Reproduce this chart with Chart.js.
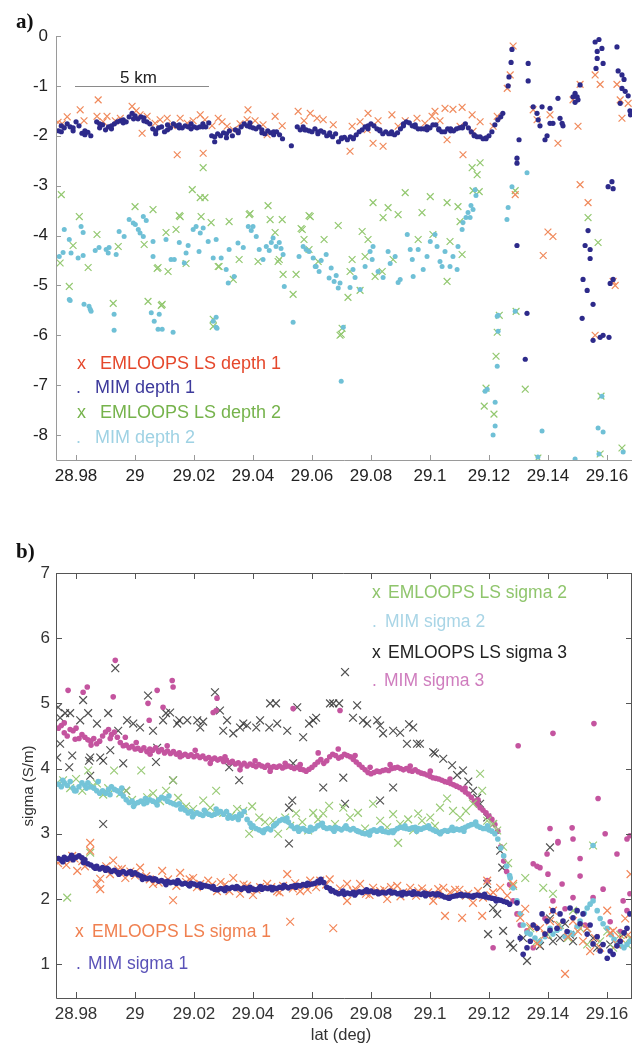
<!DOCTYPE html>
<html>
<head>
<meta charset="utf-8">
<script src="https://cdn.jsdelivr.net/npm/chart.js@4.4.1/dist/chart.umd.min.js"></script>
<style>
body{margin:0;background:#fff;width:640px;height:1043px;position:relative;overflow:hidden;font-family:"Liberation Sans",Arial,sans-serif}
canvas{position:absolute;left:0}
#chartA{top:0}
#chartB{top:490px}
.t{position:absolute;white-space:nowrap;line-height:1}
.pl{font-family:"Liberation Serif","Times New Roman",serif;font-weight:bold;font-size:21px;color:#111}
.la{font-size:18px}
.lb{font-size:17.5px}
</style>
</head>
<body>
<canvas id="chartA" width="640" height="490"></canvas>
<canvas id="chartB" width="640" height="553"></canvas>

<div class="t pl" style="left:16px;top:11px">a)</div>
<div class="t pl" style="left:16px;top:541px">b)</div>

<!-- barra de escala -->
<div style="position:absolute;left:75px;top:86px;width:134px;border-top:1px solid #8a8a8a"></div>
<div class="t" style="left:120px;top:69px;font-size:17px;color:#222">5 km</div>

<!-- legenda a -->
<div class="t la" style="left:77px;top:354px;color:#e5482c">x</div>
<div class="t la" style="left:100px;top:354px;color:#e5482c">EMLOOPS LS depth 1</div>
<div class="t la" style="left:76px;top:378px;color:#3d3a9c">.</div>
<div class="t la" style="left:95px;top:378px;color:#3d3a9c">MIM depth 1</div>
<div class="t la" style="left:77px;top:403px;color:#76b34c">x</div>
<div class="t la" style="left:100px;top:403px;color:#76b34c">EMLOOPS LS depth 2</div>
<div class="t la" style="left:76px;top:428px;color:#9fd2e4">.</div>
<div class="t la" style="left:95px;top:428px;color:#9fd2e4">MIM depth 2</div>

<!-- legenda b -->
<div class="t lb" style="left:372px;top:584px;color:#8fc56c">x</div>
<div class="t lb" style="left:388px;top:584px;color:#8fc56c">EMLOOPS LS sigma 2</div>
<div class="t lb" style="left:372px;top:613px;color:#a9d5e6">.</div>
<div class="t lb" style="left:385px;top:613px;color:#a9d5e6">MIM sigma 2</div>
<div class="t lb" style="left:372px;top:644px;color:#222">x</div>
<div class="t lb" style="left:388px;top:644px;color:#222">EMLOOPS LS sigma 3</div>
<div class="t lb" style="left:372px;top:672px;color:#cf7dbe">.</div>
<div class="t lb" style="left:384px;top:672px;color:#cf7dbe">MIM sigma 3</div>
<div class="t lb" style="left:75px;top:923px;color:#f08050">x</div>
<div class="t lb" style="left:92px;top:923px;color:#f08050">EMLOOPS LS sigma 1</div>
<div class="t lb" style="left:76px;top:955px;color:#5a52b8">.</div>
<div class="t lb" style="left:88px;top:955px;color:#5a52b8">MIM sigma 1</div>

<!-- titulos dos eixos -->
<div class="t" style="left:27px;top:786px;font-size:15px;color:#333;transform:translate(-50%,-50%) rotate(-90deg)">sigma (S/m)</div>
<div class="t" style="left:341px;top:1026px;font-size:16.5px;color:#333;transform:translateX(-50%)">lat (deg)</div>

<script>
// Ticks
const latTicks = [28.98, 29, 29.02, 29.04, 29.06, 29.08, 29.1, 29.12, 29.14, 29.16];
const depthTicks = [0, -1, -2, -3, -4, -5, -6, -7, -8];
const sigmaTicks = [1, 2, 3, 4, 5, 6, 7];

// Grade de latitude das faixas densas
const latGrid = [
28.974,28.975,28.976,28.977,28.978,28.979,28.980,28.981,28.982,28.983,
28.984,28.985,28.986,28.987,28.988,28.989,28.990,28.991,28.992,28.993,
28.994,28.995,28.996,28.997,28.998,28.999,29.000,29.001,29.002,29.003,
29.004,29.005,29.006,29.007,29.008,29.009,29.010,29.011,29.012,29.013,
29.014,29.015,29.016,29.017,29.018,29.019,29.020,29.021,29.022,29.023,
29.024,29.025,29.026,29.027,29.028,29.029,29.030,29.031,29.032,29.033,
29.034,29.035,29.036,29.037,29.038,29.039,29.040,29.041,29.042,29.043,
29.044,29.045,29.046,29.047,29.048,29.049,29.050,29.051,29.052,29.053,
29.054,29.055,29.056,29.057,29.058,29.059,29.060,29.061,29.062,29.063,
29.064,29.065,29.066,29.067,29.068,29.069,29.070,29.071,29.072,29.073,
29.074,29.075,29.076,29.077,29.078,29.079,29.080,29.081,29.082,29.083,
29.084,29.085,29.086,29.087,29.088,29.089,29.090,29.091,29.092,29.093,
29.094,29.095,29.096,29.097,29.098,29.099,29.100,29.101,29.102,29.103,
29.104,29.105,29.106,29.107,29.108,29.109,29.110,29.111,29.112,29.113,
29.114,29.115,29.116,29.117,29.118,29.119,29.120,29.121,29.122,29.123,
29.124,29.125,29.126,29.127
];

// ---------- Painel a ----------
const mimDepth1Band = [
-1.90,-1.80,-1.84,-1.76,-1.82,-1.90,-1.72,-1.80,-1.95,-1.98,
-1.93,-2.00,null,-1.72,-1.84,-1.78,-1.88,-1.82,-1.86,-1.76,
-1.72,-1.70,-1.68,-1.72,-1.62,-1.55,-1.60,-1.66,-1.62,-1.64,
-1.72,-1.76,-1.86,-1.96,-1.84,-1.82,-1.92,-1.78,-1.84,-1.76,
-1.80,-1.78,-1.84,-1.80,-1.82,-1.76,-1.82,-1.84,-1.82,-1.76,
-1.82,-1.74,-2.00,-2.12,-1.96,-2.00,-1.94,-2.04,-1.90,-2.00,
-1.88,-1.94,-1.82,-1.76,-1.80,-1.74,-1.84,-1.86,-1.82,-1.94,
-1.96,-1.90,-1.94,-1.92,-1.92,-1.98,-2.06,null,null,-2.20,
null,-1.82,-1.88,-1.82,-1.88,-1.90,-1.92,-1.86,-1.92,-1.90,
-1.93,-2.00,-1.94,-2.02,-1.96,-2.12,-2.04,-2.03,-2.08,-2.02,
-2.04,-1.98,-1.92,-1.88,-1.82,-1.80,-1.76,-1.80,-1.86,-1.90,
-1.96,-1.92,-1.96,-1.96,-1.98,-1.94,-1.86,-1.76,-1.72,-1.74,
-1.80,-1.82,-1.86,-1.86,-1.86,-1.88,-1.84,-1.78,-1.78,-1.86,
-1.92,-1.92,-1.86,-1.86,-1.90,-1.86,-1.84,-1.84,-1.76,-1.84,
-1.92,-1.98,-2.02,-2.02,-2.06,-2.04,-2.00,-1.92,-1.78,-1.68,
null,null,null,null
];

const mimDepth1Extra = [
[28.9750,-1.92],[28.9790,-1.84],[28.9830,-1.90],[28.9880,-1.76],[28.9920,-1.80],[28.9960,-1.74],[28.9995,-1.66],[29.0030,-1.70],[29.0070,-1.90],[29.0110,-1.88],
[29.0150,-1.84],[29.0190,-1.86],[29.0230,-1.82],[29.0270,-2.02],[29.0310,-1.96],[29.0350,-1.90],[29.0390,-1.82],[29.0430,-1.88],[29.0470,-1.98],[29.0575,-1.88],
[29.0620,-1.96],[29.0660,-1.98],[29.0700,-2.06],[29.0740,-2.06],[29.0790,-1.86],[29.0830,-1.88],[29.0870,-1.92],[29.0910,-1.80],[29.0950,-1.78],[29.0990,-1.82],
[29.1030,-1.88],[29.1070,-1.90],[29.1110,-1.82],[29.1150,-2.00],[29.1190,-2.06],[29.1240,-1.62],[29.1247,-1.55],
[29.1278,-0.27],[29.1275,-0.53],[29.1268,-0.82],[29.1265,-1.00],[29.1333,-0.55],[29.1333,-0.90],[29.1302,-2.08],[29.1295,-2.45],[29.1295,-2.55],
[29.1350,-1.42],[29.1363,-1.55],[29.1367,-1.68],[29.1373,-1.80],[29.1380,-1.42],[29.1407,-1.45],[29.1407,-1.75],[29.1417,-1.75],[29.1390,-2.08],[29.1397,-2.00],
[29.1441,-1.65],[29.1448,-1.75],[29.1451,-1.80],[29.1434,-1.25],[29.1485,-1.22],[29.1492,-1.15],[29.1499,-1.22],[29.1502,-1.28],[29.1509,-0.98],[29.1492,-1.33],
[29.1560,-0.12],[29.1573,-0.07],[29.1567,-0.31],[29.1583,-0.25],[29.1567,-0.45],[29.1587,-0.55],[29.1563,-0.65],[29.1634,-0.22],[29.1638,-0.70],[29.1651,-0.78],
[29.1658,-0.87],[29.1651,-1.05],[29.1662,-1.11],[29.1672,-1.20],[29.1645,-1.35],[29.1678,-1.50],[29.1680,-1.58],
[29.1295,-4.20],[29.1536,-3.90],[29.1526,-4.20],[29.1543,-4.28],[29.1543,-4.46],[29.1519,-4.88],[29.1533,-5.10],[29.1553,-5.38],[29.1516,-5.66],[29.1329,-5.56],
[29.1323,-6.48],[29.1553,-6.10],[29.1577,-6.04],[29.1587,-6.00],[29.1607,-6.04],[29.1621,-4.88],[29.1611,-4.96],[29.1604,-3.02],[29.1617,-2.92],[29.1621,-3.06]
];

const emDepth1 = [
[28.9739,-1.73],[28.9753,-1.76],[28.9770,-1.62],[28.9814,-1.48],[28.9827,-1.70],[28.9875,-1.28],[28.9871,-1.61],[28.9892,-1.72],[28.9905,-1.61],[28.9933,-1.70],
[28.9950,-1.65],[28.9990,-1.41],[29.0004,-1.50],[29.0017,-1.58],[29.0024,-1.95],[29.0041,-1.61],[29.0068,-1.75],[29.0085,-1.68],[29.0109,-1.65],[29.0126,-1.80],
[29.0143,-2.38],[29.0153,-1.65],[29.0177,-1.75],[29.0197,-1.70],[29.0221,-1.58],[29.0231,-2.35],[29.0237,-1.68],[29.0261,-1.80],[29.0282,-1.65],[29.0295,-1.72],
[29.0312,-1.81],[29.0333,-1.88],[29.0356,-1.76],[29.0380,-1.68],[29.0383,-1.48],[29.0407,-1.70],[29.0434,-1.78],[29.0448,-1.98],[29.0475,-1.61],[29.0499,-1.80],
[29.0553,-1.51],[29.0573,-1.70],[29.0594,-1.55],[29.0617,-1.65],[29.0638,-1.68],[29.0672,-1.78],[29.0729,-2.31],[29.0736,-1.81],[29.0763,-1.72],[29.0790,-1.55],
[29.0787,-1.88],[29.0807,-2.15],[29.0824,-1.70],[29.0841,-2.21],[29.0871,-1.58],[29.0892,-1.81],[29.0916,-1.70],[29.0956,-1.65],[29.0983,-1.75],[29.1007,-1.61],
[29.1017,-1.51],[29.1034,-1.70],[29.1051,-1.45],[29.1058,-2.08],[29.1078,-1.47],[29.1102,-1.81],[29.1109,-1.43],[29.1112,-2.38],[29.1143,-1.58],[29.1146,-1.91],
[29.1170,-1.72],[29.1214,-1.81],[29.1228,-1.61],[29.1262,-1.05],[29.1272,-0.78],[29.1282,-0.20],[29.1289,-3.18],[29.1350,-1.48],[29.1363,-1.68],[29.1407,-1.58],
[29.1434,-2.15],[29.1502,-1.81],[29.1485,-1.28],[29.1509,-0.97],[29.1560,-0.78],[29.1577,-0.97],[29.1509,-2.98],[29.1536,-3.34],[29.1634,-0.97],[29.1645,-1.28],
[29.1651,-1.65],[29.1672,-1.35],[29.1400,-3.93],[29.1417,-4.02],[29.1384,-4.40],[29.1621,-4.92],[29.1628,-5.00],[29.1560,-6.00]
];

const mimDepth2 = [
[28.9743,-4.42],[28.9756,-4.34],[28.9760,-3.88],[28.9777,-4.08],[28.9783,-4.35],[28.9777,-5.28],[28.9817,-3.82],[28.9824,-3.94],[28.9807,-4.45],[28.9824,-4.40],
[28.9827,-5.38],[28.9844,-5.42],[28.9851,-5.52],[28.9878,-4.24],[28.9902,-4.28],[28.9912,-4.24],[28.9909,-4.35],[28.9936,-4.38],[28.9946,-3.92],[28.9929,-5.58],
[28.9929,-5.90],[28.9980,-3.68],[28.9994,-3.75],[29.0011,-3.88],[29.0028,-3.62],[29.0028,-4.02],[29.0061,-4.12],[29.0055,-5.55],[29.0065,-5.72],[29.0082,-5.58],
[29.0078,-5.88],[29.0061,-4.42],[29.0105,-4.08],[29.0122,-4.48],[29.0133,-4.48],[29.0167,-4.55],[29.0150,-4.14],[29.0173,-4.35],[29.0197,-3.88],[29.0207,-3.82],
[29.0231,-3.85],[29.0217,-4.32],[29.0248,-4.12],[29.0265,-4.45],[29.0275,-4.08],[29.0292,-4.45],[29.0309,-4.68],[29.0319,-4.28],[29.0316,-4.95],[29.0336,-4.82],
[29.0367,-4.24],[29.0384,-3.82],[29.0400,-3.82],[29.0411,-4.02],[29.0421,-4.28],[29.0434,-4.48],[29.0445,-4.22],[29.0462,-4.14],[29.0478,-4.22],[29.0489,-4.14],
[29.0502,-4.38],[29.0506,-5.02],[29.0536,-5.74],[29.0556,-4.42],[29.0570,-4.22],[29.0580,-4.28],[29.0590,-4.32],[29.0604,-4.45],[29.0614,-4.62],[29.0624,-4.72],
[29.0648,-4.38],[29.0658,-4.85],[29.0675,-4.92],[29.0689,-5.05],[29.0706,-5.84],[29.0275,-5.64],[29.0275,-5.84],[29.0265,-5.72],[28.9780,-5.30],[28.9848,-5.48],
[29.0092,-5.88],[29.0129,-5.94],[29.0278,-5.86],[29.0611,-4.62],[29.0699,-6.92],[29.0807,-4.22],[29.0797,-4.32],[29.0804,-4.48],[29.0739,-4.68],[29.0746,-4.84],
[29.0763,-5.08],[29.0729,-5.04],[29.0841,-4.84],[29.0865,-4.56],[29.0858,-4.32],[29.0899,-4.88],[29.0892,-4.94],[29.0923,-3.98],[29.0933,-4.28],[29.0940,-4.48],
[29.0943,-4.82],[29.0977,-4.68],[29.1001,-4.12],[29.1017,-3.98],[29.1024,-4.22],[29.1034,-4.52],[29.1041,-4.62],[29.1068,-4.62],[29.1078,-4.42],[29.1092,-4.68],
[29.1109,-3.88],[29.1112,-3.74],[29.1129,-3.54],[29.1146,-3.48],[29.1153,-3.08],[29.1136,-3.64],[29.1228,-5.62],[29.1278,-3.02],[29.1265,-3.44],[29.1261,-3.68],
[29.1329,-2.74],[29.1228,-6.62],[29.1221,-7.82],[29.1214,-8.00],[29.1187,-7.12],[29.1194,-7.08],[29.1221,-7.34],[29.1231,-5.92],[29.1231,-5.60],[29.1289,-5.52],
[29.1380,-7.92],[29.1570,-7.86],[29.1587,-7.94],[29.1583,-7.22],[29.1655,-8.34],[29.1573,-8.38],[29.1366,-8.44],[29.1492,-8.48],
[29.0780,-4.62],[29.0824,-4.72],[29.0882,-4.42],[29.0960,-4.28],[29.0990,-4.42],[29.1051,-4.32],[29.1095,-4.22],[29.1122,-3.64],[29.1139,-3.40],[29.1156,-3.20],
[28.9865,-4.30],[28.9963,-4.02],[29.0001,-3.78],[29.0017,-3.95],[29.0038,-3.70],[29.0180,-4.20],[29.0221,-3.95],[29.0349,-4.15],[29.0394,-3.90],[29.0455,-4.30],
[29.0468,-4.05],[29.0495,-4.26],[29.0631,-4.50],[29.0665,-4.65],[29.0682,-4.80],[29.0695,-4.95]
];

const emDepth2 = [
[28.9750,-3.18],[28.9811,-3.62],[28.9871,-3.98],[29.0000,-3.42],[29.0061,-3.48],[29.0194,-3.08],[29.0221,-3.24],[29.0231,-2.64],[29.0237,-3.24],[29.0153,-3.62],
[29.0390,-3.56],[29.0451,-3.40],[29.0499,-3.68],[29.0594,-3.62],[29.0567,-3.88],[29.0458,-3.68],[28.9777,-5.02],[28.9841,-4.64],[28.9926,-5.36],[28.9943,-4.22],
[29.0031,-4.18],[29.0044,-5.32],[29.0078,-4.64],[29.0089,-5.40],[29.0105,-3.94],[29.0112,-4.72],[29.0150,-3.60],[29.0139,-3.88],[29.0224,-3.62],[29.0258,-3.74],
[29.0285,-4.62],[29.0319,-3.72],[29.0333,-4.88],[29.0353,-4.48],[29.0387,-3.58],[29.0417,-4.52],[29.0475,-3.94],[29.0489,-4.48],[29.0536,-5.18],[29.0546,-4.78],
[29.0563,-3.86],[29.0573,-4.08],[29.0590,-3.60],[29.0590,-4.28],[29.0621,-4.52],[29.0641,-4.08],[29.0689,-3.80],[29.0699,-5.98],[29.0265,-5.68],[29.0265,-5.82],
[29.0075,-4.66],[29.0173,-4.56],[29.0282,-4.62],[29.0485,-4.52],[29.0502,-4.78],[29.0092,-5.38],[29.0916,-3.14],[29.1001,-3.22],[29.0807,-3.34],[29.0858,-3.44],
[29.0892,-3.58],[29.0841,-3.64],[29.0973,-3.54],[29.1058,-3.34],[29.1095,-3.42],[29.1146,-3.10],[29.1102,-3.72],[29.0770,-3.92],[29.0790,-4.08],[29.0960,-4.08],
[29.1010,-3.98],[29.1068,-4.12],[29.1109,-4.38],[29.0736,-4.48],[29.0875,-4.48],[29.0838,-4.72],[29.0814,-4.82],[29.0729,-4.72],[29.0722,-5.24],[29.1058,-4.92],
[29.1170,-2.54],[29.1143,-2.64],[29.1160,-2.78],[29.1167,-3.12],[29.1235,-5.60],[29.1228,-5.94],[29.1224,-6.42],[29.1190,-7.06],[29.1184,-7.42],[29.1217,-7.58],
[29.1292,-5.52],[29.1323,-7.08],[29.1577,-8.38],[29.1580,-7.22],[29.1651,-8.26],[29.0702,-5.86],[29.0695,-6.00],[29.0763,-5.10],[29.0780,-4.42],[29.1366,-8.46],
[29.1536,-3.64],[29.1570,-4.14],[29.1289,-3.10],[28.9746,-4.55],[28.9790,-4.20]
];

// ---------- Painel b ----------
const mimSigma1Band = [
2.62,2.60,2.64,2.61,2.63,2.60,2.64,2.66,2.63,2.60,
2.54,2.52,2.49,2.50,2.46,2.48,2.44,2.45,2.42,2.44,
2.41,2.40,2.42,2.39,2.41,2.38,2.40,2.37,2.35,2.33,
2.31,2.32,2.29,2.30,2.27,2.28,2.26,2.27,2.25,2.26,
2.24,2.25,2.23,2.24,2.22,2.24,2.23,2.21,2.23,2.21,
2.20,2.19,2.17,2.15,2.14,2.16,2.15,2.17,2.16,2.18,
2.16,2.17,2.15,2.17,2.16,2.18,2.15,2.14,2.16,2.15,
2.17,2.16,2.18,2.17,2.16,2.18,2.17,2.19,2.17,2.19,
2.20,2.21,2.20,2.22,2.21,2.22,2.23,2.24,2.27,2.30,
2.25,2.18,2.16,2.13,2.10,2.08,2.09,2.07,2.09,2.08,
2.10,2.09,2.11,2.10,2.12,2.11,2.12,2.10,2.11,2.09,
2.10,2.09,2.11,2.09,2.10,2.08,2.09,2.10,2.08,2.09,
2.07,2.08,2.08,2.07,2.09,2.08,2.07,2.08,2.06,2.07,
2.05,2.03,2.02,2.03,2.04,2.05,2.06,2.05,2.06,2.05,
2.04,2.05,2.06,2.05,2.04,2.03,2.02,2.01,2.00,1.99,
1.98,1.96,1.95,1.92
];

const mimSigma2Band = [
3.76,3.72,3.78,3.74,3.80,3.70,3.66,3.72,3.78,3.74,
3.78,3.72,3.70,3.66,3.62,3.66,3.62,3.68,3.72,3.68,
3.66,3.62,3.58,3.52,3.48,3.50,3.46,3.48,3.50,3.46,
3.48,3.52,3.50,3.48,3.52,3.56,3.54,3.50,3.48,3.46,
3.44,3.46,3.40,3.36,3.32,3.34,3.30,3.32,3.30,3.28,
3.32,3.30,3.28,3.30,3.32,3.34,3.30,3.34,3.28,3.24,
3.26,3.22,3.28,3.34,3.22,3.16,3.12,3.08,3.06,3.04,
3.06,3.08,3.06,3.12,3.16,3.20,3.22,3.20,3.18,3.12,
3.08,3.10,3.07,3.08,3.05,3.04,3.06,3.08,3.12,3.14,
3.10,3.08,3.09,3.07,3.10,3.08,3.06,3.09,3.08,3.06,
3.08,3.05,3.03,3.01,3.00,3.02,3.04,3.06,3.04,3.06,
3.04,3.03,3.02,3.04,3.05,3.08,3.10,3.09,3.08,3.07,
3.09,3.10,3.08,3.07,3.09,3.10,3.08,3.06,3.04,3.02,
3.03,3.05,3.04,3.06,3.05,3.07,3.06,3.08,3.10,3.12,
3.14,3.15,3.12,3.10,3.08,3.08,3.06,3.04,3.00,2.92,
2.78,2.66,2.50,2.36
];

const mimSigma3Band = [
4.62,4.66,4.55,4.50,4.60,4.58,4.62,4.46,4.52,4.48,
4.44,4.42,4.46,4.38,4.42,4.50,4.56,4.60,4.52,4.56,
4.48,4.40,4.35,4.36,4.32,4.34,4.30,4.31,4.28,4.32,
4.26,4.30,4.28,4.32,4.26,4.29,4.24,4.27,4.23,4.26,
4.22,4.24,4.20,4.22,4.19,4.21,4.18,4.20,4.17,4.19,
4.15,4.17,4.14,4.16,4.13,4.15,4.11,4.13,4.09,4.11,
4.07,4.09,4.05,4.08,4.04,4.07,4.05,4.03,4.06,4.04,
4.02,4.05,4.01,4.03,4.02,4.04,4.01,4.03,4.04,4.02,
4.00,4.02,3.99,3.98,3.96,3.99,4.02,4.06,4.10,4.14,
4.08,4.12,4.18,4.22,4.20,4.16,4.18,4.22,4.20,4.18,
4.14,4.10,4.06,4.02,3.98,3.94,3.92,3.94,3.96,3.95,
3.97,3.98,3.97,4.00,4.01,4.02,4.00,3.98,4.00,3.97,
3.96,3.98,3.95,3.93,3.92,3.90,3.88,3.86,3.85,3.84,
3.82,3.80,3.79,3.77,3.75,3.73,3.71,3.68,3.64,3.61,
3.56,3.50,3.45,3.40,3.36,3.32,3.27,3.22,3.14,3.04,
2.80,2.58,2.42,2.22
];

const mimSigma1Extra = [
[28.9755,2.57],[28.9785,2.67],[28.9825,2.56],[28.9865,2.47],[28.9905,2.47],[28.9945,2.38],[28.9985,2.42],[29.0025,2.30],[29.0065,2.31],[29.0105,2.22],
[29.0145,2.28],[29.0185,2.20],[29.0225,2.18],[29.0265,2.19],[29.0305,2.13],[29.0345,2.19],[29.0385,2.13],[29.0425,2.19],[29.0465,2.14],[29.0505,2.21],
[29.0545,2.18],[29.0585,2.24],[29.0625,2.25],[29.0665,2.12],[29.0705,2.12],[29.0745,2.06],[29.0785,2.14],[29.0825,2.08],[29.0865,2.12],[29.0905,2.06],
[29.0945,2.11],[29.0985,2.05],[29.1025,2.08],[29.1065,2.01],[29.1105,2.07],[29.1145,2.03],[29.1185,2.07],[29.1225,1.97],
[29.1295,1.94],[29.1306,1.40],[29.1316,1.15],[29.1329,1.25],[29.1340,1.35],[29.1350,1.60],[29.1363,1.55],[29.1380,1.77],[29.1390,1.46],[29.1397,1.66],
[29.1407,1.52],[29.1417,1.82],[29.1431,1.55],[29.1441,1.77],[29.1451,1.66],[29.1465,1.50],[29.1475,1.86],[29.1485,1.71],[29.1499,1.82],[29.1509,1.62],
[29.1519,1.77],[29.1533,1.46],[29.1543,1.60],[29.1553,1.31],[29.1567,1.42],[29.1577,1.20],[29.1587,1.30],[29.1601,1.09],[29.1611,1.20],[29.1621,1.15],
[29.1634,1.28],[29.1645,1.35],[29.1658,1.48],[29.1668,1.55],[29.1678,1.77]
];

const mimSigma2Extra = [
[28.9755,3.82],[28.9795,3.66],[28.9835,3.70],[28.9875,3.80],[28.9915,3.60],[28.9955,3.70],[28.9995,3.42],[29.0035,3.54],[29.0075,3.44],[29.0115,3.58],
[29.0155,3.38],[29.0195,3.26],[29.0235,3.36],[29.0275,3.38],[29.0315,3.24],[29.0355,3.30],[29.0395,3.10],[29.0435,3.02],[29.0475,3.14],[29.0515,3.24],
[29.0555,3.04],[29.0595,3.10],[29.0635,3.16],[29.0675,3.04],[29.0715,3.12],[29.0755,3.04],[29.0795,2.98],[29.0835,3.08],[29.0875,3.02],[29.0915,3.12],
[29.0955,3.04],[29.0995,3.12],[29.1035,3.00],[29.1075,3.10],[29.1115,3.04],[29.1155,3.18],[29.1195,3.12],
[29.1272,2.32],[29.1282,2.17],[29.1295,1.97],[29.1306,1.77],[29.1316,1.60],[29.1329,1.48],[29.1340,1.46],[29.1356,1.40],[29.1373,1.35],[29.1390,1.42],
[29.1407,1.55],[29.1417,1.46],[29.1431,1.52],[29.1441,1.55],[29.1458,1.42],[29.1475,1.48],[29.1485,1.46],[29.1499,1.58],[29.1509,1.66],[29.1523,1.78],
[29.1533,1.86],[29.1543,1.92],[29.1553,1.97],[29.1567,1.82],[29.1577,1.70],[29.1587,1.62],[29.1601,1.55],[29.1614,1.45],[29.1624,1.38],[29.1634,1.31],
[29.1648,1.28],[29.1658,1.25],[29.1668,1.30],[29.1678,1.35],[29.1553,2.82]
];

const mimSigma3Extra = [
[28.9773,5.20],[28.9824,5.17],[28.9838,5.25],[28.9933,5.66],[28.9926,5.10],[29.0044,5.00],[29.0075,5.20],[29.0095,4.94],[29.0126,5.35],[29.0129,5.25],
[29.0265,4.86],[29.0278,5.08],[29.0536,4.92],[29.0275,4.89],[29.0048,4.74],[29.0695,4.89],
[28.9760,4.70],[28.9797,4.45],[28.9851,4.36],[28.9916,4.46],[28.9967,4.48],[29.0004,4.40],[29.0051,4.22],[29.0109,4.35],[29.0153,4.18],[29.0204,4.28],
[29.0255,4.08],[29.0305,4.18],[29.0356,3.98],[29.0407,4.12],[29.0458,3.96],[29.0509,4.08],[29.0560,4.06],[29.0621,4.24],[29.0689,4.30],[29.0746,4.20],
[29.0797,4.02],[29.0865,4.06],[29.0933,4.04],[29.1001,3.96],[29.1068,3.84],[29.1119,3.70],[29.1163,3.52],
[29.1282,1.97],[29.1295,1.77],[29.1306,1.60],[29.1194,2.28],[29.1214,1.25],[29.1299,4.35],[29.1417,4.54],[29.1556,4.69],[29.1570,3.54],
[29.1407,3.08],[29.1482,3.09],[29.1485,2.92],[29.1594,3.00],[29.1509,2.62],[29.1634,2.69],[29.1434,2.86],[29.1397,2.69],[29.1350,2.54],[29.1373,2.48],
[29.1400,2.38],[29.1448,2.23],[29.1509,2.35],[29.1587,2.15],[29.1655,1.97],[29.1678,2.08],[29.1668,1.82],[29.1553,2.02],[29.1485,2.02],[29.1417,1.97],
[29.1329,1.51],[29.1350,1.25],[29.1390,1.70],[29.1458,1.85],[29.1526,1.60],[29.1611,1.65],[29.1678,2.97],[29.1645,1.50],
[29.1434,2.88],[29.1668,2.92],[29.1363,2.50]
];

const emSigma1 = [
[28.9739,2.55],[28.9753,2.60],[28.9767,2.52],[28.9787,2.66],[28.9804,2.43],[28.9821,2.58],[28.9848,2.86],[28.9848,2.74],[28.9871,2.23],[28.9882,2.15],
[28.9882,2.31],[28.9902,2.50],[28.9926,2.59],[28.9943,2.45],[28.9967,2.32],[28.9984,2.42],[29.0017,2.48],[29.0038,2.35],[29.0061,2.23],[29.0092,2.43],
[29.0112,2.30],[29.0129,1.98],[29.0153,2.40],[29.0173,2.26],[29.0197,2.32],[29.0221,2.23],[29.0248,2.28],[29.0278,2.12],[29.0305,2.22],[29.0333,2.32],
[29.0356,2.08],[29.0380,2.20],[29.0400,2.06],[29.0424,2.18],[29.0448,2.23],[29.0482,2.12],[29.0502,2.20],[29.0516,2.38],[29.0526,1.65],[29.0543,2.24],
[29.0560,2.12],[29.0577,2.20],[29.0594,2.28],[29.0614,2.18],[29.0628,2.28],[29.0648,2.22],[29.0672,1.55],[29.0695,2.16],[29.0719,2.23],[29.0719,1.97],
[29.0739,2.12],[29.0763,2.23],[29.0783,2.08],[29.0807,2.17],[29.0831,2.12],[29.0855,2.00],[29.0868,2.18],[29.0889,2.20],[29.0909,2.10],[29.0933,2.17],
[29.0953,2.05],[29.0973,2.16],[29.0994,2.10],[29.1011,1.97],[29.1028,2.15],[29.1045,2.17],[29.1051,1.74],[29.1068,2.10],[29.1085,2.14],[29.1109,1.71],
[29.1122,2.05],[29.1146,1.94],[29.1163,2.12],[29.1177,1.74],[29.1194,2.28],[29.1214,2.10],[29.1238,2.17],[29.1262,2.05],[29.1282,2.23],[29.1306,1.71],
[29.1323,1.85],[29.1340,1.58],[29.1363,1.31],[29.1373,1.55],[29.1390,1.45],[29.1407,1.66],[29.1417,1.82],[29.1434,1.60],[29.1458,0.85],[29.1468,1.42],
[29.1485,1.66],[29.1502,1.50],[29.1519,1.35],[29.1533,1.55],[29.1543,1.20],[29.1560,1.40],[29.1577,1.25],[29.1601,1.82],[29.1611,1.48],[29.1621,1.51],
[29.1634,1.30],[29.1645,1.40],[29.1662,1.70],[29.1672,1.45],[29.1680,2.38],
[28.9795,2.62],[28.9830,2.50],[28.9915,2.38],[28.9955,2.46],[29.0000,2.36],[29.0050,2.30],[29.0080,2.25],[29.0140,2.20],[29.0185,2.30],[29.0210,2.18],
[29.0262,2.22],[29.0290,2.26],[29.0320,2.12],[29.0368,2.22],[29.0412,2.14],[29.0462,2.18],[29.0490,2.10],[29.0535,2.16],[29.0585,2.14],[29.0660,2.30],
[29.0750,2.14],[29.0795,2.06],[29.0845,2.14],[29.0900,2.04],[29.0960,2.12],[29.1020,2.06],[29.1100,2.14],[29.1130,2.08],[29.1180,2.02],[29.1205,2.06]
];

const emSigma2 = [
[28.9736,3.78],[28.9756,3.82],[28.9770,2.02],[28.9780,3.70],[28.9800,3.84],[28.9821,3.66],[28.9841,3.97],[28.9848,2.71],[28.9858,3.74],[28.9871,3.77],
[28.9892,3.60],[28.9909,3.70],[28.9929,3.97],[28.9950,3.62],[28.9970,3.66],[28.9990,3.52],[29.0021,3.97],[29.0041,3.56],[29.0061,3.62],[29.0085,3.50],
[29.0105,3.66],[29.0129,3.82],[29.0146,3.55],[29.0173,3.42],[29.0197,3.38],[29.0231,3.51],[29.0255,3.40],[29.0275,3.66],[29.0299,3.32],[29.0326,3.28],
[29.0346,3.38],[29.0367,3.35],[29.0387,3.00],[29.0397,3.42],[29.0421,3.25],[29.0441,3.18],[29.0468,3.20],[29.0485,3.00],[29.0509,3.25],[29.0526,3.12],
[29.0546,3.31],[29.0567,3.18],[29.0587,3.05],[29.0604,3.32],[29.0621,3.22],[29.0638,3.31],[29.0658,3.43],[29.0678,3.15],[29.0706,3.40],[29.0729,3.25],
[29.0756,3.32],[29.0780,3.08],[29.0807,3.46],[29.0831,3.20],[29.0855,3.10],[29.0875,3.30],[29.0892,2.86],[29.0899,3.15],[29.0926,3.22],[29.0943,3.05],
[29.0960,3.31],[29.0973,3.20],[29.1001,3.25],[29.1017,3.12],[29.1034,3.40],[29.1058,3.54],[29.1078,3.35],[29.1102,3.25],[29.1122,3.35],[29.1146,3.46],
[29.1170,3.92],[29.1177,3.66],[29.1194,3.20],[29.1214,3.15],[29.1228,3.05],[29.1248,2.80],[29.1265,2.55],[29.1282,2.20],[29.1323,2.32],[29.1340,1.55],
[29.1363,1.35],[29.1384,2.17],[29.1400,1.45],[29.1417,2.08],[29.1441,1.60],[29.1468,1.40],[29.1485,1.82],[29.1509,1.55],[29.1533,1.30],[29.1553,2.82],
[29.1577,1.35],[29.1601,1.50],[29.1621,1.25],[29.1645,1.45],[29.1668,1.30],[29.1678,1.40]
];

const emSigma3 = [
[28.9736,4.17],[28.9739,4.94],[28.9746,4.78],[28.9746,4.38],[28.9763,4.85],[28.9777,4.02],[28.9780,4.85],[28.9787,4.20],[28.9814,4.74],[28.9824,5.05],
[28.9841,4.85],[28.9844,4.12],[28.9848,4.17],[28.9848,3.89],[28.9871,4.69],[28.9882,4.17],[28.9892,4.12],[28.9892,3.15],[28.9909,4.85],[28.9916,4.28],
[28.9933,5.54],[28.9943,4.58],[28.9960,4.08],[28.9970,3.66],[28.9973,4.74],[28.9994,4.69],[29.0017,4.63],[29.0044,5.12],[29.0061,4.58],[29.0071,4.10],
[29.0075,4.32],[29.0095,4.74],[29.0105,4.85],[29.0119,4.86],[29.0129,3.82],[29.0143,4.69],[29.0150,4.74],[29.0177,4.74],[29.0211,4.74],[29.0221,4.63],
[29.0231,4.72],[29.0271,5.17],[29.0288,4.89],[29.0299,4.58],[29.0312,4.74],[29.0319,4.02],[29.0333,4.54],[29.0353,3.82],[29.0356,4.63],[29.0367,4.69],
[29.0380,4.66],[29.0411,4.63],[29.0424,4.74],[29.0455,4.63],[29.0458,5.00],[29.0478,5.00],[29.0482,4.69],[29.0516,4.58],[29.0522,3.40],[29.0522,2.85],
[29.0533,3.51],[29.0536,4.08],[29.0550,4.94],[29.0570,4.48],[29.0590,4.69],[29.0604,4.74],[29.0614,4.78],[29.0638,3.71],[29.0672,5.00],[29.0692,5.00],
[29.0706,3.86],[29.0712,3.46],[29.0739,4.78],[29.0753,4.97],[29.0787,4.69],[29.0831,4.66],[29.0831,3.51],[29.0841,4.54],[29.0875,3.71],[29.0899,4.55],
[29.0943,4.63],[29.0929,4.68],[29.0966,4.38],[29.1011,4.25],[29.1092,3.90],[29.1112,3.97],[29.1146,3.66],[29.1170,3.46],[29.1194,3.25],[29.1214,3.15],
[29.1238,2.74],[29.1245,2.48],[29.1194,2.23],[29.1214,1.86],[29.1228,1.77],[29.1197,1.46],[29.1248,1.51],[29.1272,1.31],[29.1282,1.25],[29.1316,1.40],
[29.1329,1.05],[29.1407,2.79],[29.1407,1.70],[29.1417,1.35],[29.1441,1.40],[29.1475,1.45],[29.1485,1.35],[29.1533,1.55],[29.1553,1.40],[29.1567,1.25],
[29.1611,1.30],[29.1655,1.46],[29.1458,1.62],[29.1373,1.28],
[29.0661,5.00],[29.0712,5.48],[29.0773,4.74],[29.0821,4.74],[29.0875,4.58],[29.0922,4.38],[29.0956,4.38],[29.1017,4.23],
[29.1045,4.15],[29.1075,4.05],[29.1130,3.80],[29.1160,3.55]
];

// Funcoes de montagem dos pontos
function fromGrid(band){
  return latGrid.map((x, i) => ({x: x, y: band[i]})).filter(p => p.y !== null);
}
function fromPairs(list){
  return list.map(p => ({x: p[0], y: p[1]}));
}

function crossSet(pts, color, r, order){
  return {data: pts, pointStyle: 'crossRot', pointRadius: r, borderColor: color,
          backgroundColor: color, pointBorderWidth: 1.2, order: order};
}
function dotSet(pts, color, r, order){
  return {data: pts, pointStyle: 'circle', pointRadius: r, backgroundColor: color,
          borderColor: color, pointBorderWidth: 0, order: order};
}

// Eixos com ticks para dentro
const axisPlugin = {
  id: 'axes',
  afterDatasetsDraw(chart, args, opts){
    const ctx = chart.ctx;
    const a = chart.chartArea;
    const x = chart.scales.x, y = chart.scales.y;
    const L = opts.len;
    ctx.save();
    ctx.strokeStyle = opts.color;
    ctx.lineWidth = 1;
    ctx.beginPath();
    ctx.moveTo(a.left + 0.5, a.top);
    ctx.lineTo(a.left + 0.5, a.bottom + 0.5);
    ctx.lineTo(a.right, a.bottom + 0.5);
    if (opts.box) {
      ctx.moveTo(a.right - 0.5, a.bottom);
      ctx.lineTo(a.right - 0.5, a.top + 0.5);
      ctx.lineTo(a.left, a.top + 0.5);
    }
    x.ticks.forEach(t => {
      const px = Math.round(x.getPixelForValue(t.value)) + 0.5;
      ctx.moveTo(px, a.bottom);
      ctx.lineTo(px, a.bottom - L);
      if (opts.box) { ctx.moveTo(px, a.top); ctx.lineTo(px, a.top + L); }
    });
    y.ticks.forEach(t => {
      const py = Math.round(y.getPixelForValue(t.value)) + 0.5;
      ctx.moveTo(a.left, py);
      ctx.lineTo(a.left + L, py);
      if (opts.box) { ctx.moveTo(a.right, py); ctx.lineTo(a.right - L, py); }
    });
    ctx.stroke();
    ctx.restore();
  }
};

function makeChart(id, datasets, cfg){
  return new Chart(document.getElementById(id), {
    type: 'scatter',
    data: {datasets: datasets},
    options: {
      responsive: false,
      animation: false,
      devicePixelRatio: 1,
      events: [],
      layout: {padding: {left: 0, right: 8, top: cfg.top, bottom: 0}},
      plugins: {
        legend: {display: false},
        tooltip: {enabled: false},
        axes: {color: cfg.axisColor, box: cfg.box, len: cfg.len}
      },
      scales: {
        x: {
          type: 'linear', min: 28.9732, max: 29.1685,
          grid: {display: false, drawTicks: false},
          border: {display: false},
          afterBuildTicks: s => { s.ticks = latTicks.map(v => ({value: v})); },
          afterFit: s => { s.height = cfg.xh; s.paddingLeft = 0; s.paddingRight = 0; },
          ticks: {padding: 6, autoSkip: false, maxRotation: 0, color: cfg.labelColor,
                  font: {family: 'Liberation Sans', size: 17},
                  callback: v => String(+v.toFixed(2))}
        },
        y: {
          type: 'linear', min: cfg.yMin, max: cfg.yMax,
          grid: {display: false, drawTicks: false},
          border: {display: false},
          afterBuildTicks: s => { s.ticks = cfg.yTicks.map(v => ({value: v})); },
          afterFit: s => { s.width = 56; s.paddingTop = 0; s.paddingBottom = 0; },
          ticks: {padding: cfg.ypad, color: cfg.labelColor,
                  font: {family: 'Liberation Sans', size: 17},
                  callback: v => String(v)}
        }
      }
    },
    plugins: [axisPlugin]
  });
}

// Painel a
makeChart('chartA', [
  dotSet(fromGrid(mimDepth1Band).concat(fromPairs(mimDepth1Extra)), '#2d2a8a', 2.6, 0),
  crossSet(fromPairs(emDepth1), '#f08a5c', 4.8, 1),
  dotSet(fromPairs(mimDepth2), '#6fc0d6', 2.5, 2),
  crossSet(fromPairs(emDepth2), '#93c870', 4.8, 3)
], {top: 36, xh: 30, yMin: -8.5, yMax: 0, yTicks: depthTicks, ypad: 8,
    axisColor: '#9a9a9a', box: false, len: 5, labelColor: '#222'});

// Painel b
makeChart('chartB', [
  dotSet(fromGrid(mimSigma1Band).concat(fromPairs(mimSigma1Extra)), '#332c92', 2.8, 0),
  crossSet(fromPairs(emSigma1), '#f3875a', 5.5, 1),
  dotSet(fromGrid(mimSigma2Band).concat(fromPairs(mimSigma2Extra)), '#74c4d8', 2.8, 2),
  crossSet(fromPairs(emSigma2), '#9acb78', 5.5, 3),
  dotSet(fromGrid(mimSigma3Band).concat(fromPairs(mimSigma3Extra)), '#c4549f', 2.8, 4),
  crossSet(fromPairs(emSigma3), 'rgba(50,50,50,0.85)', 5.5, 5)
], {top: 83, xh: 45, yMin: 0.48, yMax: 7, yTicks: sigmaTicks, ypad: 6,
    axisColor: '#555', box: true, len: 6, labelColor: '#333'});
</script>
</body>
</html>
